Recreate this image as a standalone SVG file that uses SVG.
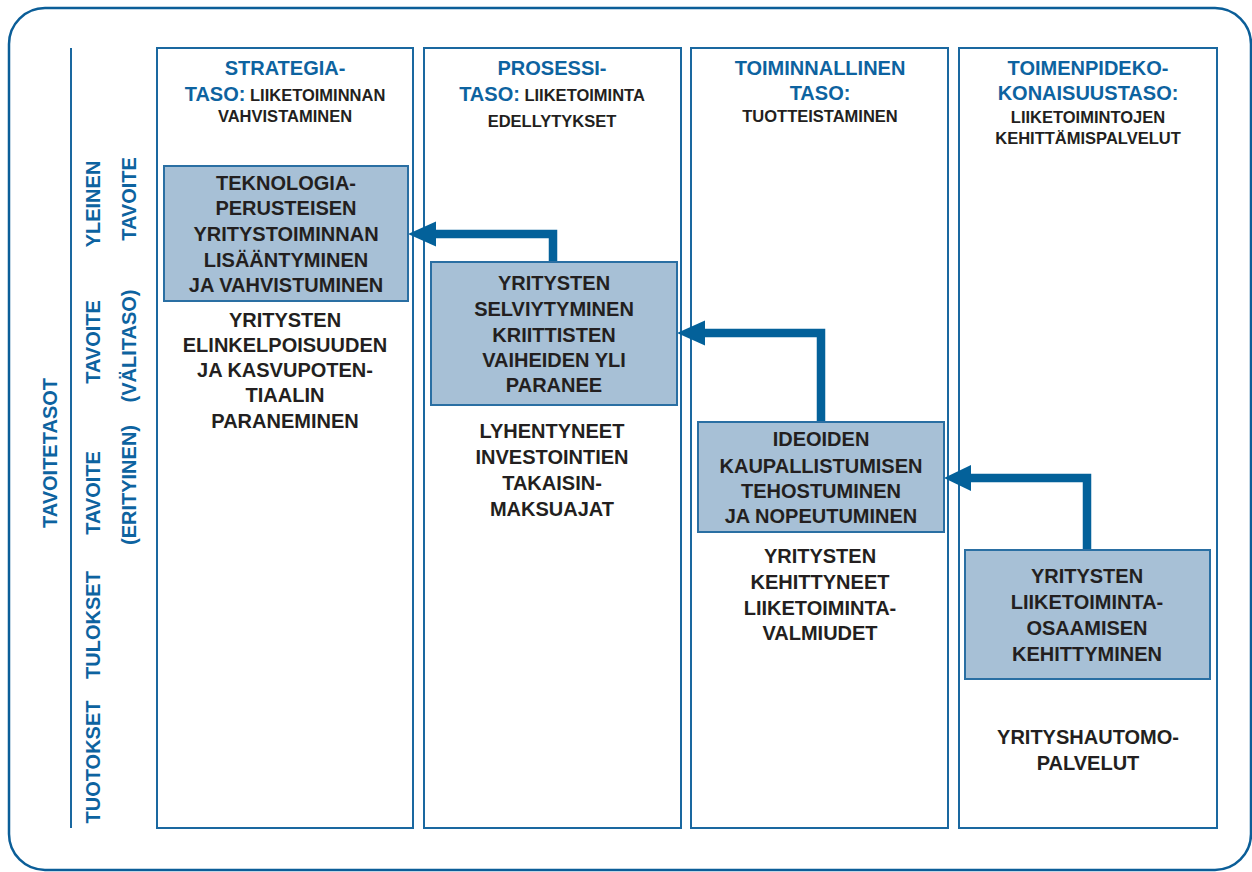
<svg xmlns="http://www.w3.org/2000/svg" width="1252" height="872" viewBox="0 0 1252 872">
<defs>
<style>
.frame{fill:none;stroke:#0b5e98;stroke-width:2.5}
.col{fill:#fff;stroke:#1a68a0;stroke-width:2}
.box{fill:#a7c0d6;stroke:#2a6fa3;stroke-width:2}
.conn{fill:none;stroke:#03619a;stroke-width:8.5}
.head{fill:#03619a}
text{font-family:"Liberation Sans",Arial,sans-serif;font-weight:bold;text-anchor:middle}
.hb{fill:#0d63a0;font-size:20px}
.hs{fill:#231f20;font-size:16.5px}
.t{fill:#231f20;font-size:20px}
.v{fill:#0d63a0;font-size:20px}
</style>
</defs>
<rect width="1252" height="872" fill="#fff"/>
<rect class="frame" x="9" y="8" width="1242" height="862" rx="36" ry="36"/>
<line x1="71" y1="48" x2="71" y2="828" stroke="#1a68a0" stroke-width="2"/>

<g id="labels">
<text class="v" transform="translate(57,453) rotate(-90)">TAVOITETASOT</text>
<text class="v" transform="translate(100,204) rotate(-90)">YLEINEN</text>
<text class="v" transform="translate(136,199) rotate(-90)">TAVOITE</text>
<text class="v" transform="translate(100,342) rotate(-90)">TAVOITE</text>
<text class="v" transform="translate(136,346) rotate(-90)">(VÄLITASO)</text>
<text class="v" transform="translate(100,493) rotate(-90)">TAVOITE</text>
<text class="v" transform="translate(136,485) rotate(-90)">(ERITYINEN)</text>
<text class="v" transform="translate(100,625) rotate(-90)">TULOKSET</text>
<text class="v" transform="translate(100,762) rotate(-90)">TUOTOKSET</text>
</g>

<g id="col1">
<rect class="col" x="157" y="48" width="256" height="780"/>
<text class="hb" x="285" y="75">STRATEGIA-</text>
<text x="285" y="101"><tspan class="hb">TASO:</tspan><tspan class="hs"> LIIKETOIMINNAN</tspan></text>
<text class="hs" x="285" y="122">VAHVISTAMINEN</text>
<text class="t" x="285" y="327">YRITYSTEN</text>
<text class="t" x="285" y="352">ELINKELPOISUUDEN</text>
<text class="t" x="285" y="377">JA KASVUPOTEN-</text>
<text class="t" x="285" y="402">TIAALIN</text>
<text class="t" x="285" y="428">PARANEMINEN</text>
</g>

<g id="col2">
<rect class="col" x="424" y="48" width="257" height="780"/>
<text class="hb" x="552" y="75">PROSESSI-</text>
<text x="552" y="101"><tspan class="hb">TASO:</tspan><tspan class="hs"> LIIKETOIMINTA</tspan></text>
<text class="hs" x="552" y="127">EDELLYTYKSET</text>
<text class="t" x="552" y="438">LYHENTYNEET</text>
<text class="t" x="552" y="464">INVESTOINTIEN</text>
<text class="t" x="552" y="490">TAKAISIN-</text>
<text class="t" x="552" y="516">MAKSUAJAT</text>
</g>

<g id="col3">
<rect class="col" x="691" y="48" width="257" height="780"/>
<text class="hb" x="820" y="75">TOIMINNALLINEN</text>
<text class="hb" x="820" y="100">TASO:</text>
<text class="hs" x="820" y="122">TUOTTEISTAMINEN</text>
<text class="t" x="820" y="563">YRITYSTEN</text>
<text class="t" x="820" y="589">KEHITTYNEET</text>
<text class="t" x="820" y="615">LIIKETOIMINTA-</text>
<text class="t" x="820" y="640">VALMIUDET</text>
</g>

<g id="col4">
<rect class="col" x="959" y="48" width="258" height="780"/>
<text class="hb" x="1088" y="75">TOIMENPIDEKO-</text>
<text class="hb" x="1088" y="100">KONAISUUSTASO:</text>
<text class="hs" x="1088" y="123">LIIKETOIMINTOJEN</text>
<text class="hs" x="1088" y="144">KEHITTÄMISPALVELUT</text>
<text class="t" x="1088" y="744">YRITYSHAUTOMO-</text>
<text class="t" x="1088" y="770">PALVELUT</text>
</g>

<g id="connectors">
<polyline class="conn" points="553,262 553,234 432,234"/>
<polygon class="head" points="408,234 436,221.5 436,246.5"/>
<polyline class="conn" points="821,421 821,333 700,333"/>
<polygon class="head" points="677,333 705,320.5 705,345.5"/>
<polyline class="conn" points="1087,550 1087,478 966,478"/>
<polygon class="head" points="944,478 971,465 971,491"/>
</g>

<g id="box1">
<rect class="box" x="164" y="166" width="244" height="135"/>
<text class="t" x="286" y="190">TEKNOLOGIA-</text>
<text class="t" x="286" y="215">PERUSTEISEN</text>
<text class="t" x="286" y="241">YRITYSTOIMINNAN</text>
<text class="t" x="286" y="267">LISÄÄNTYMINEN</text>
<text class="t" x="286" y="292">JA VAHVISTUMINEN</text>
</g>

<g id="box2">
<rect class="box" x="431" y="262" width="246" height="143"/>
<text class="t" x="554" y="290">YRITYSTEN</text>
<text class="t" x="554" y="316">SELVIYTYMINEN</text>
<text class="t" x="554" y="342">KRIITTISTEN</text>
<text class="t" x="554" y="367">VAIHEIDEN YLI</text>
<text class="t" x="554" y="392">PARANEE</text>
</g>

<g id="box3">
<rect class="box" x="698" y="422" width="246" height="110"/>
<text class="t" x="821" y="446">IDEOIDEN</text>
<text class="t" x="821" y="473">KAUPALLISTUMISEN</text>
<text class="t" x="821" y="498">TEHOSTUMINEN</text>
<text class="t" x="821" y="523">JA NOPEUTUMINEN</text>
</g>

<g id="box4">
<rect class="box" x="965" y="550" width="245" height="129"/>
<text class="t" x="1087" y="583">YRITYSTEN</text>
<text class="t" x="1087" y="609">LIIKETOIMINTA-</text>
<text class="t" x="1087" y="635">OSAAMISEN</text>
<text class="t" x="1087" y="661">KEHITTYMINEN</text>
</g>
</svg>
